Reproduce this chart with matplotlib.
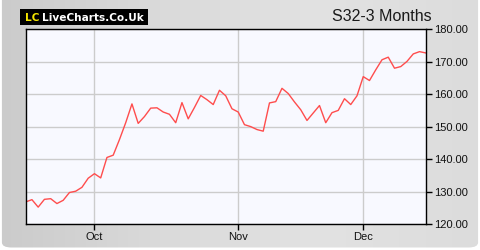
import numpy as np
import matplotlib
matplotlib.use('Agg')
import matplotlib.pyplot as plt
from matplotlib.patches import FancyBboxPatch, Rectangle

# S32 closing prices, last 3 months (one value per trading day)
prices = [126.8, 127.5, 125.2, 127.6, 127.8, 126.3, 127.3, 129.7, 130.1, 131.3,
          134.1, 135.5, 134.2, 140.5, 141.2, 146.0, 151.2, 157.0, 151.0, 153.1,
          155.7, 155.8, 154.5, 153.8, 151.2, 157.4, 152.4, 155.9, 159.6, 158.3,
          156.8, 161.2, 159.5, 155.5, 154.5, 150.6, 150.0, 149.1, 148.6, 157.3,
          157.7, 161.8, 160.2, 157.6, 155.2, 151.9, 154.2, 156.5, 151.2, 154.3,
          155.0, 158.6, 156.8, 159.5, 165.4, 164.2, 167.5, 170.6, 171.4, 168.0,
          168.5, 170.1, 172.4, 173.1, 172.7]
month_idx = [11, 34, 54]
month_labels = ['Oct', 'Nov', 'Dec']
y_ticks = [120, 130, 140, 150, 160, 170, 180]

fig = plt.figure(figsize=(4.8, 2.5), dpi=100)
fig.patch.set_facecolor('white')

# grey rounded panel with a soft horizontal gradient
bg = fig.add_axes([0, 0, 1, 1])
bg.set_axis_off()
grad = np.linspace(0, 1, 256)
grad = np.vstack([grad, grad])
cmap = matplotlib.colors.LinearSegmentedColormap.from_list(
    'bg', ['#cbcbcb', '#dadada', '#e2e2e2', '#dcdcdc'])
im = bg.imshow(grad, aspect='auto', cmap=cmap, extent=[0, 1, 0, 1])
panel = FancyBboxPatch((0.004, 0.01), 0.992, 1.2,
                       boxstyle='round,pad=0,rounding_size=0.02',
                       transform=bg.transAxes, facecolor='none', edgecolor='none')
bg.add_patch(panel)
im.set_clip_path(panel)
bg.set_xlim(0, 1)
bg.set_ylim(0, 1)

# logo box
bg.add_patch(Rectangle((20 / 480, 1 - 25 / 250), 128 / 480, 16 / 250,
                       transform=bg.transAxes, facecolor='black', edgecolor='none'))

ax = fig.add_axes([0.0535, 0.104, 0.8335, 0.779])
ax.set_facecolor('#f8f9ff')
x = np.arange(len(prices))
ax.plot(x, prices, color='#ff4d4d', lw=1.0)
ax.set_xlim(0, len(prices) - 1)
ax.set_ylim(120, 180)

ax.set_xticks(month_idx)
ax.set_xticklabels(month_labels)
ax.set_yticks(y_ticks)
ax.set_yticklabels([f'{v:.2f}' for v in y_ticks])
ax.yaxis.tick_right()
ax.tick_params(axis='both', direction='out', length=4, width=1,
               labelsize=8, colors='black', labelcolor='#111111')
ax.tick_params(axis='y', pad=2)
ax.tick_params(axis='x', pad=2)
ax.grid(True, color='#cccccc', lw=1)
ax.set_axisbelow(True)
for s in ax.spines.values():
    s.set_color('black')
    s.set_linewidth(1)

for lbl in ax.get_xticklabels() + ax.get_yticklabels():
    lbl.set_family('Liberation Sans')

fig.text(0.9, 0.965, 'S32-3 Months', ha='right', va='top',
         fontsize=11.5, family='Liberation Sans', color='#1a1a1a')

# logo text
fig.text(25 / 480, 1 - 17.5 / 250, 'LC', ha='left', va='center', fontsize=7.6,
         fontweight='bold', color='#f5e600', family='DejaVu Sans')
fig.text(42 / 480, 1 - 17.5 / 250, 'LiveCharts.Co.Uk', ha='left', va='center',
         fontsize=7.6, fontweight='bold', color='white', family='DejaVu Sans')

fig.savefig('out.png', dpi=100, facecolor=fig.get_facecolor())
